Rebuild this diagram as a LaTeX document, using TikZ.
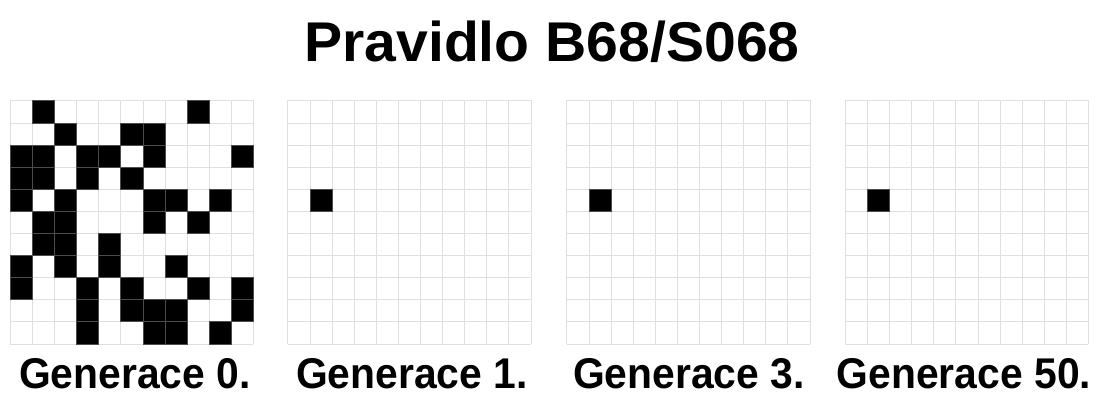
\documentclass[tikz,border=0pt]{standalone}
\usepackage{fontspec}
\setmainfont{Liberation Sans}
\usepackage{tikz}

\tikzset{
  titletext/.style={anchor=base, inner sep=0pt, text depth=0pt, font=\bfseries\fontsize{56}{60}\selectfont},
  gentext/.style={anchor=base, inner sep=0pt, text depth=0pt, font=\bfseries\fontsize{43}{46}\selectfont},
  cellgrid/.style={gray!25, line width=0.05},
  live/.style={fill=black, draw=black!70, line width=0.03}
}
% 11x11 mrizka bunek
\newcommand{\cellgrid}{%
  \foreach \i in {0,...,11} {
    \draw[cellgrid] (\i,0) -- (\i,11);
    \draw[cellgrid] (0,\i) -- (11,\i);
  }}

\begin{document}
\begin{tikzpicture}[x=1pt, y=-1pt]
\useasboundingbox (0,0) rectangle (1104,395);
\node[titletext] (title) at (552,62) {\scalebox{1.02}[1]{Pravidlo B68/S068}};

% generace 0
\begin{scope}[shift={(10,100.5)}, scale=22.1]
\cellgrid
\filldraw[live] (1,0) rectangle (2,1);
\filldraw[live] (8,0) rectangle (9,1);
\filldraw[live] (2,1) rectangle (3,2);
\filldraw[live] (5,1) rectangle (6,2);
\filldraw[live] (6,1) rectangle (7,2);
\filldraw[live] (0,2) rectangle (1,3);
\filldraw[live] (1,2) rectangle (2,3);
\filldraw[live] (3,2) rectangle (4,3);
\filldraw[live] (4,2) rectangle (5,3);
\filldraw[live] (6,2) rectangle (7,3);
\filldraw[live] (10,2) rectangle (11,3);
\filldraw[live] (0,3) rectangle (1,4);
\filldraw[live] (1,3) rectangle (2,4);
\filldraw[live] (3,3) rectangle (4,4);
\filldraw[live] (5,3) rectangle (6,4);
\filldraw[live] (0,4) rectangle (1,5);
\filldraw[live] (2,4) rectangle (3,5);
\filldraw[live] (6,4) rectangle (7,5);
\filldraw[live] (7,4) rectangle (8,5);
\filldraw[live] (9,4) rectangle (10,5);
\filldraw[live] (1,5) rectangle (2,6);
\filldraw[live] (2,5) rectangle (3,6);
\filldraw[live] (6,5) rectangle (7,6);
\filldraw[live] (8,5) rectangle (9,6);
\filldraw[live] (1,6) rectangle (2,7);
\filldraw[live] (2,6) rectangle (3,7);
\filldraw[live] (4,6) rectangle (5,7);
\filldraw[live] (0,7) rectangle (1,8);
\filldraw[live] (2,7) rectangle (3,8);
\filldraw[live] (4,7) rectangle (5,8);
\filldraw[live] (7,7) rectangle (8,8);
\filldraw[live] (0,8) rectangle (1,9);
\filldraw[live] (3,8) rectangle (4,9);
\filldraw[live] (5,8) rectangle (6,9);
\filldraw[live] (8,8) rectangle (9,9);
\filldraw[live] (10,8) rectangle (11,9);
\filldraw[live] (3,9) rectangle (4,10);
\filldraw[live] (5,9) rectangle (6,10);
\filldraw[live] (6,9) rectangle (7,10);
\filldraw[live] (7,9) rectangle (8,10);
\filldraw[live] (10,9) rectangle (11,10);
\filldraw[live] (3,10) rectangle (4,11);
\filldraw[live] (6,10) rectangle (7,11);
\filldraw[live] (7,10) rectangle (8,11);
\filldraw[live] (9,10) rectangle (10,11);
\end{scope}

% generace 1
\begin{scope}[shift={(287.5,100.5)}, scale=22.1]
\cellgrid
\filldraw[live] (1,4) rectangle (2,5);
\end{scope}

% generace 3
\begin{scope}[shift={(566.5,100.5)}, scale=22.1]
\cellgrid
\filldraw[live] (1,4) rectangle (2,5);
\end{scope}

% generace 50
\begin{scope}[shift={(845,100.5)}, scale=22.1]
\cellgrid
\filldraw[live] (1,4) rectangle (2,5);
\end{scope}

\node[gentext] (gen0) at (135,389) {\scalebox{0.95}[1]{Generace 0.}};
\node[gentext] (gen1) at (412,389) {\scalebox{0.95}[1]{Generace 1.}};
\node[gentext] (gen3) at (689,389) {\scalebox{0.95}[1]{Generace 3.}};
\node[gentext] (gen50) at (964,389) {\scalebox{0.95}[1]{Generace 50.}};
\end{tikzpicture}
\end{document}
